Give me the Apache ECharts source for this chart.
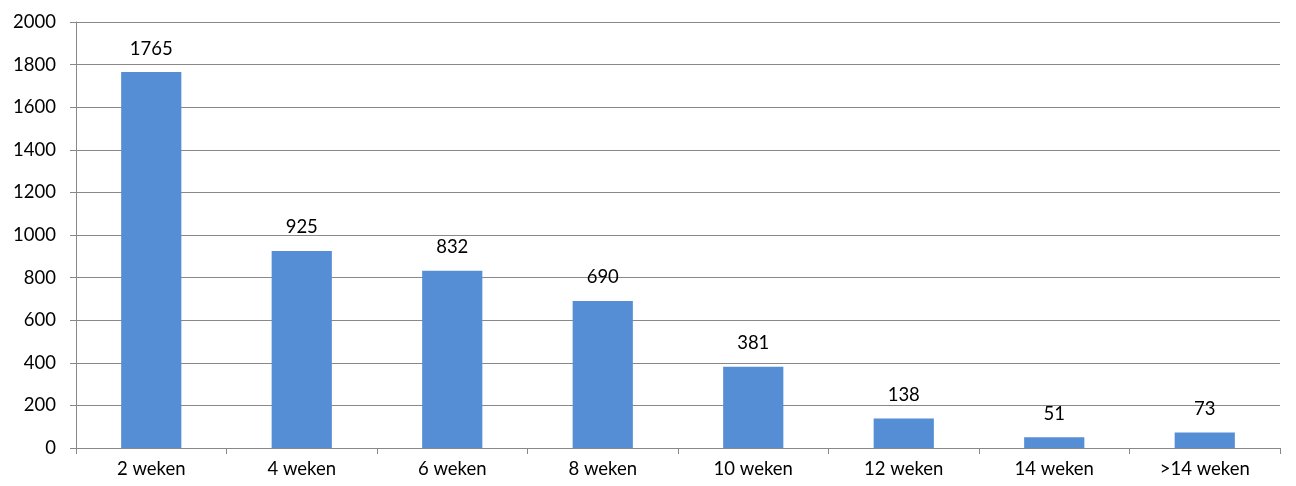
<!DOCTYPE html>
<html>
<head>
<meta charset="utf-8">
<script src="https://cdn.jsdelivr.net/npm/echarts@6/dist/echarts.min.js"></script>
<style>
html,body{margin:0;padding:0;background:#fff;}
#c{width:1296px;height:486px;}
</style>
</head>
<body>
<div id="c"></div>
<script>
const categories = ['2 weken','4 weken','6 weken','8 weken','10 weken','12 weken','14 weken','>14 weken'];
const values = [1765, 925, 832, 690, 381, 138, 51, 73];
const yTicks = {min: 0, max: 2000, interval: 200};

const chart = echarts.init(document.getElementById('c'));
const font = 'Lato, "Open Sans", sans-serif';
chart.setOption({
  animation: false,
  grid: {left: 76, right: 16, top: 22, bottom: 38, containLabel: false},
  xAxis: {
    type: 'category',
    data: categories,
    axisLine: {show: true, lineStyle: {color: '#888888', width: 1}},
    axisTick: {show: true, length: 6, alignWithLabel: false, lineStyle: {color: '#888888'}},
    axisLabel: {color: '#000', fontSize: 18.5, fontFamily: font, margin: 12}
  },
  yAxis: {
    type: 'value',
    min: yTicks.min, max: yTicks.max, interval: yTicks.interval,
    axisLine: {show: true, lineStyle: {color: '#888888', width: 1}},
    axisTick: {show: true, length: 6, lineStyle: {color: '#888888'}},
    axisLabel: {color: '#000', fontSize: 18.5, fontFamily: font, margin: 20, formatter: v => String(v)},
    splitLine: {show: true, lineStyle: {color: '#888888', width: 1}}
  },
  series: [{
    type: 'bar',
    data: values,
    barWidth: '40%',
    itemStyle: {color: '#558ED5'},
    label: {show: true, position: 'top', distance: 14, color: '#000', fontSize: 18.5, fontFamily: font}
  }]
});
</script>
</body>
</html>
